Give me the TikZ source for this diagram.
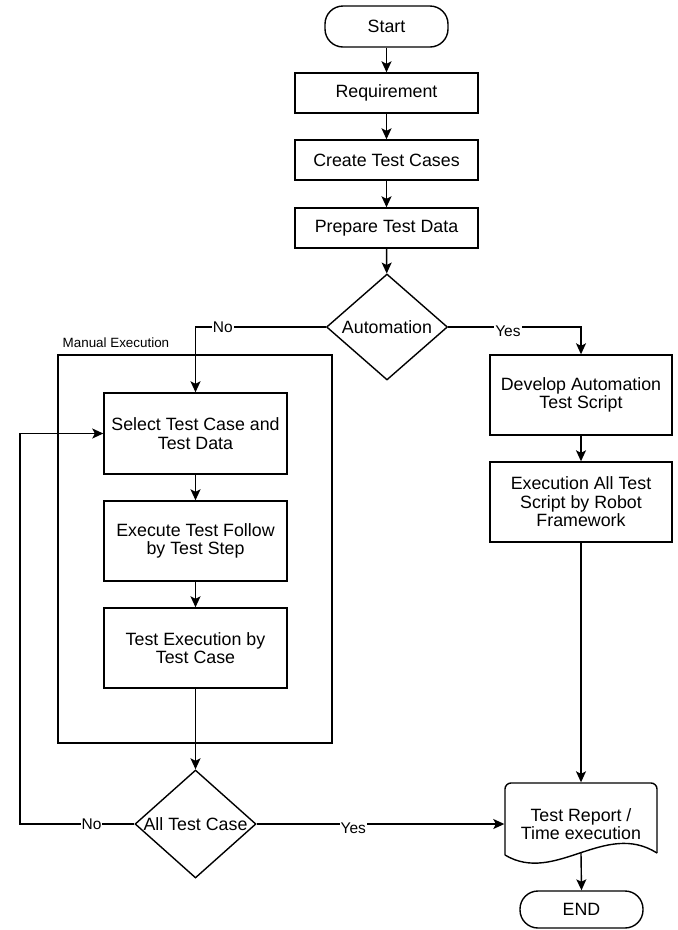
\documentclass[tikz,border=0pt]{standalone}
\usepackage{fontspec}
\setmainfont{Liberation Sans}
\usetikzlibrary{arrows.meta,shapes.geometric}

\begin{document}
\begin{tikzpicture}[x=1pt,y=-1pt,
  line width=1.4pt,
  font=\fontsize{17.8}{18.5}\selectfont,
  >={Stealth[length=11pt,width=10pt,inset=2.5pt]},
  proc/.style={draw, rectangle, align=center, inner sep=0pt},
  term/.style={draw, rectangle, rounded corners=18pt, inner sep=0pt,
    minimum width=123pt},
  dec/.style={draw, diamond, inner sep=0pt, aspect=1},
  lbl/.style={fill=white, inner sep=1pt, font=\fontsize{15.5}{17}\selectfont},
  grouplbl/.style={anchor=west, inner sep=0pt, font=\fontsize{13.4}{15}\selectfont}
]
\useasboundingbox (0,0) rectangle (678,930);

% manual execution group
\node[draw, rectangle, minimum width=274pt, minimum height=388pt, inner sep=0pt]
  (grp) at (195,549) {};
\node[grouplbl] (grplbl) at (62,343) {Manual Execution};

% main column
\node[term, minimum height=41pt] (start) at (386.5,26.5) {Start};
\node[proc, minimum width=183pt, minimum height=40pt] (req) at (386.5,93) {Requirement};
\node[proc, minimum width=183pt, minimum height=40pt] (tc) at (386.5,160) {Create Test Cases};
\node[proc, minimum width=183pt, minimum height=40pt] (prep) at (386.5,228) {Prepare Test Data};
\node[dec, minimum width=121pt, minimum height=106pt] (auto) at (387,327)
  {\makebox[0pt]{Automation}};

% manual branch
\node[proc, minimum width=183pt, minimum height=81pt] (sel) at (195.5,433.5)
  {Select Test Case and\\Test Data};
\node[proc, minimum width=183pt, minimum height=80pt] (exe) at (195.5,541)
  {Execute Test Follow\\by Test Step};
\node[proc, minimum width=183pt, minimum height=80pt] (tex) at (195.5,648)
  {Test Execution by\\Test Case};
\node[dec, minimum width=121pt, minimum height=108pt] (all) at (195.5,824)
  {\makebox[0pt]{All Test Case}};

% automation branch
\node[proc, minimum width=182pt, minimum height=80pt] (dev) at (581,395)
  {Develop Automation\\Test Script};
\node[proc, minimum width=182pt, minimum height=80pt] (robot) at (581,502)
  {Execution All Test\\Script by Robot\\Framework};

% report document
\node[rectangle, inner sep=0pt, minimum width=152pt, minimum height=82pt, align=center]
  (report) at (581,824) {Test Report /\\Time execution};
\draw[rounded corners=6pt] (505,855) -- (505,783) -- (657,783) -- (657,853);
\draw (505,855) .. controls (555,885) and (605,820) .. (657,853);
\coordinate (wavemid) at (581,853);

\node[term, minimum height=37pt] (endnode) at (581.5,909.5) {END};

% connectors
\draw[->] (start) -- (req);
\draw[->] (req) -- (tc);
\draw[->] (tc) -- (prep);
\draw[->] (prep) -- (auto);
\draw[->] (auto.west) -- node[lbl, pos=0.79] {No} (sel.north |- auto.west) -- (sel.north);
\draw[->] (auto.east) -- node[lbl, pos=0.45, yshift=-4pt] {Yes} (dev.north |- auto.east) -- (dev.north);
\draw[->] (sel) -- (exe);
\draw[->] (exe) -- (tex);
\draw[->] (tex) -- (all);
\draw[->] (dev) -- (robot);
\coordinate (loop) at (20,824);
\draw[->] (all.west) -- node[lbl, pos=0.374] {No} (loop) |- (sel.west);
\draw[->] (all.east) -- node[lbl, pos=0.39, yshift=-4pt] {Yes} (report.west);
\draw[->] (robot) -- (report.north);
\draw[->] (wavemid) -- (endnode.north);
\end{tikzpicture}
\end{document}
